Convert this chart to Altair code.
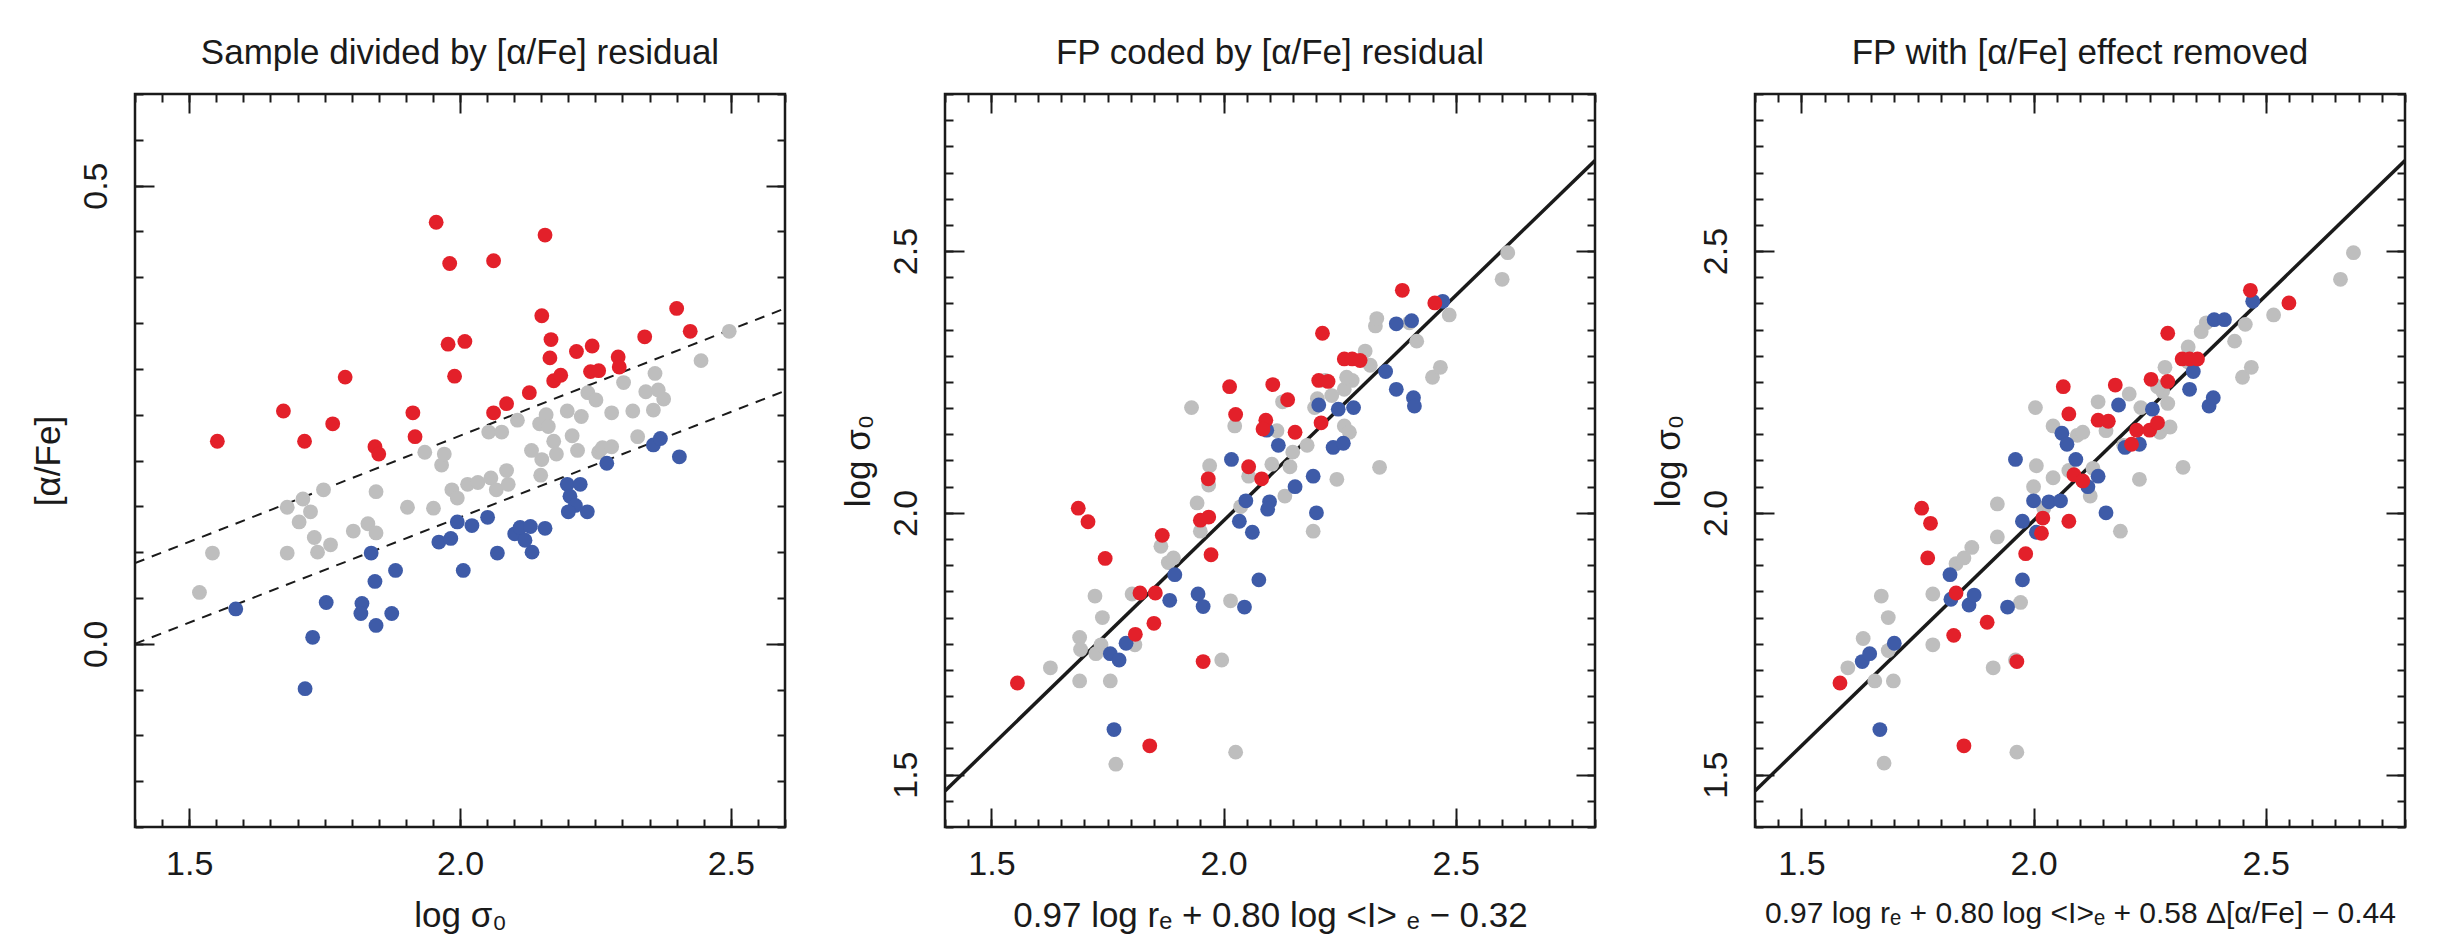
import altair as alt
import pandas as pd

FONT = "Liberation Sans"
RED = "#E3202A"
BLUE = "#3E5BA8"
GRAY = "#BEBEBE"
INK = "#1a1a1a"

# ---------------- Panel 1: [alpha/Fe] vs log sigma0 ----------------
p1_red_x = [1.552,1.674,1.713,1.765,1.788,1.843,1.850,1.913,1.917,1.956,1.981,1.978,2.009,1.990,2.062,2.062,2.086,2.128,2.157,2.151,2.168,2.166,2.173,2.186,2.215,2.244,2.241,2.256,2.292,2.294,2.341,2.400,2.425]
p1_red_y = [0.221,0.254,0.221,0.240,0.291,0.215,0.207,0.252,0.226,0.460,0.415,0.327,0.330,0.292,0.418,0.252,0.262,0.274,0.446,0.358,0.332,0.312,0.287,0.293,0.319,0.325,0.297,0.298,0.313,0.302,0.335,0.366,0.341]
p1_gray_x = [1.519,1.543,1.681,1.681,1.710,1.724,1.703,1.731,1.748,1.737,1.761,1.803,1.830,1.845,1.845,1.903,1.935,1.951,1.966,1.971,1.985,1.995,2.014,2.033,2.057,2.067,2.053,2.077,2.086,2.089,2.106,2.132,2.151,2.149,2.147,2.159,2.163,2.173,2.178,2.198,2.207,2.217,2.224,2.236,2.251,2.256,2.263,2.280,2.280,2.302,2.319,2.328,2.343,2.357,2.360,2.376,2.366,2.445,2.497]
p1_gray_y = [0.056,0.099,0.099,0.149,0.158,0.144,0.133,0.116,0.168,0.100,0.108,0.123,0.131,0.121,0.166,0.149,0.209,0.148,0.195,0.207,0.168,0.159,0.174,0.176,0.181,0.168,0.231,0.231,0.189,0.174,0.244,0.211,0.201,0.184,0.240,0.250,0.237,0.221,0.207,0.254,0.227,0.211,0.248,0.274,0.266,0.209,0.214,0.215,0.252,0.285,0.254,0.226,0.275,0.255,0.295,0.267,0.277,0.309,0.341]
p1_blue_x = [1.586,1.714,1.728,1.753,1.819,1.817,1.845,1.836,1.843,1.874,1.881,1.961,1.983,2.006,1.995,2.022,2.051,2.069,2.101,2.111,2.130,2.157,2.133,2.120,2.198,2.203,2.213,2.222,2.200,2.235,2.271,2.357,2.370,2.405]
p1_blue_y = [0.038,-0.049,0.007,0.045,0.044,0.033,0.020,0.099,0.068,0.033,0.080,0.111,0.115,0.080,0.133,0.129,0.138,0.099,0.120,0.127,0.128,0.126,0.100,0.113,0.174,0.161,0.151,0.174,0.144,0.144,0.197,0.217,0.224,0.204]
p1_line_x = [1.4, 2.6]
p1_upper_y = [0.088, 0.366]
p1_lower_y = [0.0, 0.276]

# ---------------- Panel 2: FP coded by residual ----------------
p2_red_x = [1.556,1.687,1.708,1.745,1.810,1.820,1.853,1.850,1.841,1.868,1.956,1.967,1.950,1.968,1.973,2.013,2.026,2.054,2.082,2.091,2.085,2.106,2.138,2.154,2.205,2.225,2.210,2.213,2.260,2.277,2.294,2.385,2.455]
p2_red_y = [1.675,2.009,1.983,1.913,1.768,1.847,1.847,1.789,1.555,1.957,1.716,2.065,1.986,1.992,1.920,2.241,2.188,2.088,2.065,2.177,2.160,2.245,2.216,2.154,2.253,2.251,2.172,2.343,2.294,2.294,2.291,2.425,2.401]
p2_blue_x = [1.764,1.756,1.775,1.790,1.884,1.895,1.945,1.956,2.017,2.034,2.045,2.062,2.048,2.076,2.099,2.095,2.093,2.118,2.154,2.193,2.200,2.205,2.236,2.258,2.247,2.280,2.349,2.372,2.409,2.411,2.372,2.405,2.472]
p2_blue_y = [1.586,1.731,1.719,1.751,1.833,1.882,1.845,1.821,2.102,1.984,1.820,1.963,2.023,1.872,2.021,2.007,2.158,2.129,2.050,2.070,2.000,2.206,2.125,2.133,2.198,2.201,2.270,2.236,2.220,2.204,2.361,2.367,2.404]
p2_gray_x = [1.627,1.690,1.690,1.692,1.723,1.739,1.725,1.736,1.756,1.768,1.803,1.809,1.865,1.881,1.892,1.931,1.943,1.950,1.970,1.968,1.996,2.015,2.026,2.024,2.054,2.037,2.104,2.115,2.127,2.132,2.143,2.149,2.180,2.193,2.202,2.196,2.244,2.260,2.271,2.260,2.277,2.305,2.316,2.327,2.336,2.330,2.400,2.416,2.450,2.467,2.486,2.600,2.612,2.219,2.233,2.265]
p2_gray_y = [1.704,1.762,1.679,1.739,1.841,1.800,1.731,1.748,1.679,1.520,1.845,1.748,1.936,1.905,1.914,2.201,2.019,1.965,2.090,2.053,1.719,1.832,1.543,2.166,2.070,2.012,2.093,2.157,2.212,2.032,2.088,2.116,2.129,1.965,2.218,2.201,2.064,2.166,2.154,2.236,2.253,2.309,2.282,2.357,2.087,2.371,2.363,2.328,2.259,2.278,2.378,2.446,2.497,2.253,2.224,2.259]

# ---------------- Panel 3: FP with effect removed ----------------
p3_red_x = [1.583,1.759,1.778,1.772,1.828,1.833,1.850,1.900,1.964,1.983,2.020,2.017,2.064,2.076,2.076,2.087,2.106,2.139,2.161,2.176,2.211,2.222,2.250,2.253,2.289,2.289,2.320,2.336,2.353,2.467,2.550,2.267]
p3_red_y = [1.675,2.009,1.980,1.914,1.766,1.847,1.555,1.791,1.716,1.922,1.990,1.961,2.241,2.189,1.984,2.073,2.061,2.177,2.175,2.244,2.131,2.158,2.158,2.255,2.343,2.251,2.294,2.294,2.294,2.425,2.401,2.172]
p3_blue_x = [1.669,1.631,1.647,1.700,1.820,1.822,1.861,1.872,1.944,1.976,1.961,1.976,2.006,2.000,2.033,2.058,2.061,2.072,2.091,2.117,2.139,2.156,2.183,2.197,2.256,2.228,2.336,2.344,2.378,2.387,2.389,2.411,2.472]
p3_blue_y = [1.586,1.716,1.731,1.751,1.882,1.835,1.824,1.843,1.820,1.872,2.102,1.984,1.963,2.023,2.021,2.023,2.152,2.131,2.102,2.050,2.070,2.000,2.206,2.125,2.198,2.131,2.236,2.270,2.204,2.220,2.369,2.369,2.404]
p3_gray_x = [1.600,1.633,1.658,1.672,1.687,1.678,1.698,1.687,1.783,1.783,1.833,1.850,1.867,1.913,1.922,1.922,1.961,1.972,1.964,2.000,2.004,2.006,2.042,2.022,2.042,2.076,2.094,2.106,2.122,2.128,2.139,2.156,2.187,2.194,2.206,2.228,2.231,2.272,2.278,2.289,2.294,2.283,2.322,2.333,2.361,2.372,2.433,2.456,2.450,2.469,2.517,2.661,2.689,2.267,2.333]
p3_gray_y = [1.704,1.760,1.679,1.841,1.800,1.522,1.679,1.737,1.748,1.845,1.903,1.914,1.934,1.704,1.954,2.017,1.719,1.829,1.543,2.050,2.201,2.090,2.067,2.009,2.166,2.081,2.148,2.154,2.032,2.085,2.212,2.157,1.965,2.129,2.227,2.064,2.201,2.154,2.232,2.209,2.164,2.278,2.087,2.317,2.346,2.363,2.328,2.360,2.259,2.278,2.378,2.446,2.497,2.241,2.288]

fp_line_x = [1.4, 2.8]
fp_line_y = [1.469, 2.673]

# axis ticks
p1_x_major = [1.5, 2.0, 2.5]
p1_y_major = [0.0, 0.5]
fp_major = [1.5, 2.0, 2.5]

titles = ["Sample divided by [\u03b1/Fe] residual",
          "FP coded by [\u03b1/Fe] residual",
          "FP with [\u03b1/Fe] effect removed"]
xtitles = ["log \u03c3\u2080",
           "0.97 log r\u2091 + 0.80 log <I> \u2091 \u2212 0.32",
           "0.97 log r\u2091 + 0.80 log <I>\u2091 + 0.58 \u0394[\u03b1/Fe] \u2212 0.44"]
ytitles = ["[\u03b1/Fe]", "log \u03c3\u2080", "log \u03c3\u2080"]

GROUPS = ["gray", "blue", "red"]
COLORS = [GRAY, BLUE, RED]


def points_df(gx, gy, bx, by, rx, ry):
    rows = []
    for grp, xs, ys in (("gray", gx, gy), ("blue", bx, by), ("red", rx, ry)):
        rows += [{"x": a, "y": b, "grp": grp} for a, b in zip(xs, ys)]
    return pd.DataFrame(rows)


def steps(lo, hi, step):
    n = int(round((hi - lo) / step))
    return [round(lo + i * step, 3) for i in range(n + 1)]


MAJ = 19
MIN = 8
LABEL_SIZE = 34
TITLE_SIZE = 35


def panel(pts, lines, dashed, lw, xdom, ydom, xmaj, ymaj, title, xtitle, ytitle, xtsize):
    xs = alt.Scale(domain=xdom, nice=False, zero=False)
    ys = alt.Scale(domain=ydom, nice=False, zero=False)
    xminor = steps(xdom[0], xdom[1], 0.05)
    yminor = steps(ydom[0], ydom[1], 0.05)

    common = dict(domain=False, grid=False, tickColor=INK, tickWidth=2)

    def ax(xaxis, yaxis):
        return alt.Chart(pts).mark_circle(opacity=0).encode(
            x=alt.X("x:Q", scale=xs, axis=xaxis),
            y=alt.Y("y:Q", scale=ys, axis=yaxis),
        )

    bottom_major = alt.Axis(orient="bottom", values=xmaj, format=".1f", tickSize=MAJ, offset=-MAJ,
                            labelPadding=20, labelFont=FONT, labelFontSize=LABEL_SIZE, labelColor=INK,
                            labelOverlap=False, labelFlush=False,
                            title=xtitle, titleFont=FONT, titleFontSize=xtsize, titleFontWeight="normal",
                            titleColor=INK, titlePadding=17, **common)
    left_major = alt.Axis(orient="left", values=ymaj, format=".1f", tickSize=MAJ, offset=-MAJ,
                          labelPadding=22, labelFont=FONT, labelFontSize=LABEL_SIZE, labelColor=INK,
                          labelAngle=270, labelAlign="center", labelBaseline="bottom",
                          labelOverlap=False, labelFlush=False,
                          title=ytitle, titleFont=FONT, titleFontSize=TITLE_SIZE, titleFontWeight="normal",
                          titleColor=INK, titlePadding=13, **common)
    bottom_minor = alt.Axis(orient="bottom", values=xminor, labels=False, tickSize=MIN, offset=-MIN,
                            title=None, **common)
    left_minor = alt.Axis(orient="left", values=yminor, labels=False, tickSize=MIN, offset=-MIN,
                          title=None, **common)
    top_major = alt.Axis(orient="top", values=xmaj, labels=False, tickSize=MAJ, offset=-MAJ,
                         title=None, **common)
    right_major = alt.Axis(orient="right", values=ymaj, labels=False, tickSize=MAJ, offset=-MAJ,
                           title=None, **common)
    top_minor = alt.Axis(orient="top", values=xminor, labels=False, tickSize=MIN, offset=-MIN,
                         title=None, **common)
    right_minor = alt.Axis(orient="right", values=yminor, labels=False, tickSize=MIN, offset=-MIN,
                           title=None, **common)

    layers = [
        ax(bottom_major, left_major),
        ax(bottom_minor, left_minor),
        ax(top_major, right_major),
        ax(top_minor, right_minor),
    ]
    line_kw = dict(color=INK, strokeWidth=lw, clip=True)
    if dashed:
        line_kw["strokeDash"] = [10, 8]
    layers.append(
        alt.Chart(lines).mark_line(**line_kw).encode(
            x=alt.X("x:Q", scale=xs, axis=None),
            y=alt.Y("y:Q", scale=ys, axis=None),
            detail="line:N",
        )
    )
    layers.append(
        alt.Chart(pts).mark_circle(size=220, opacity=1).encode(
            x=alt.X("x:Q", scale=xs, axis=None),
            y=alt.Y("y:Q", scale=ys, axis=None),
            color=alt.Color("grp:N", scale=alt.Scale(domain=GROUPS, range=COLORS), legend=None),
        )
    )
    return alt.layer(*layers).resolve_axis(x="independent", y="independent").properties(
        width=650, height=733,
        title=alt.TitleParams(text=title, font=FONT, fontSize=TITLE_SIZE, fontWeight="normal",
                              color=INK, anchor="middle", offset=22),
    )


df1 = points_df(p1_gray_x, p1_gray_y, p1_blue_x, p1_blue_y, p1_red_x, p1_red_y)
df2 = points_df(p2_gray_x, p2_gray_y, p2_blue_x, p2_blue_y, p2_red_x, p2_red_y)
df3 = points_df(p3_gray_x, p3_gray_y, p3_blue_x, p3_blue_y, p3_red_x, p3_red_y)

l1 = pd.DataFrame({"x": p1_line_x + p1_line_x,
                   "y": p1_upper_y + p1_lower_y,
                   "line": ["upper", "upper", "lower", "lower"]})
lfp = pd.DataFrame({"x": fp_line_x, "y": fp_line_y, "line": ["fit", "fit"]})

c1 = panel(df1, l1, True, 2, [1.4, 2.6], [-0.2, 0.6], p1_x_major, p1_y_major,
           titles[0], xtitles[0], ytitles[0], TITLE_SIZE)
c2 = panel(df2, lfp, False, 3.5, [1.4, 2.8], [1.4, 2.8], fp_major, fp_major,
           titles[1], xtitles[1], ytitles[1], TITLE_SIZE)
c3 = panel(df3, lfp, False, 3.5, [1.4, 2.8], [1.4, 2.8], fp_major, fp_major,
           titles[2], xtitles[2], ytitles[2], 30)

chart = alt.hconcat(c1, c2, c3, spacing=51).properties(
    background="white",
    padding={"left": 29, "top": 34, "right": 0, "bottom": 0},
).configure_view(stroke=INK, strokeWidth=2.5)

chart.save("out.html", embed_options={"renderer": "svg", "actions": False})
